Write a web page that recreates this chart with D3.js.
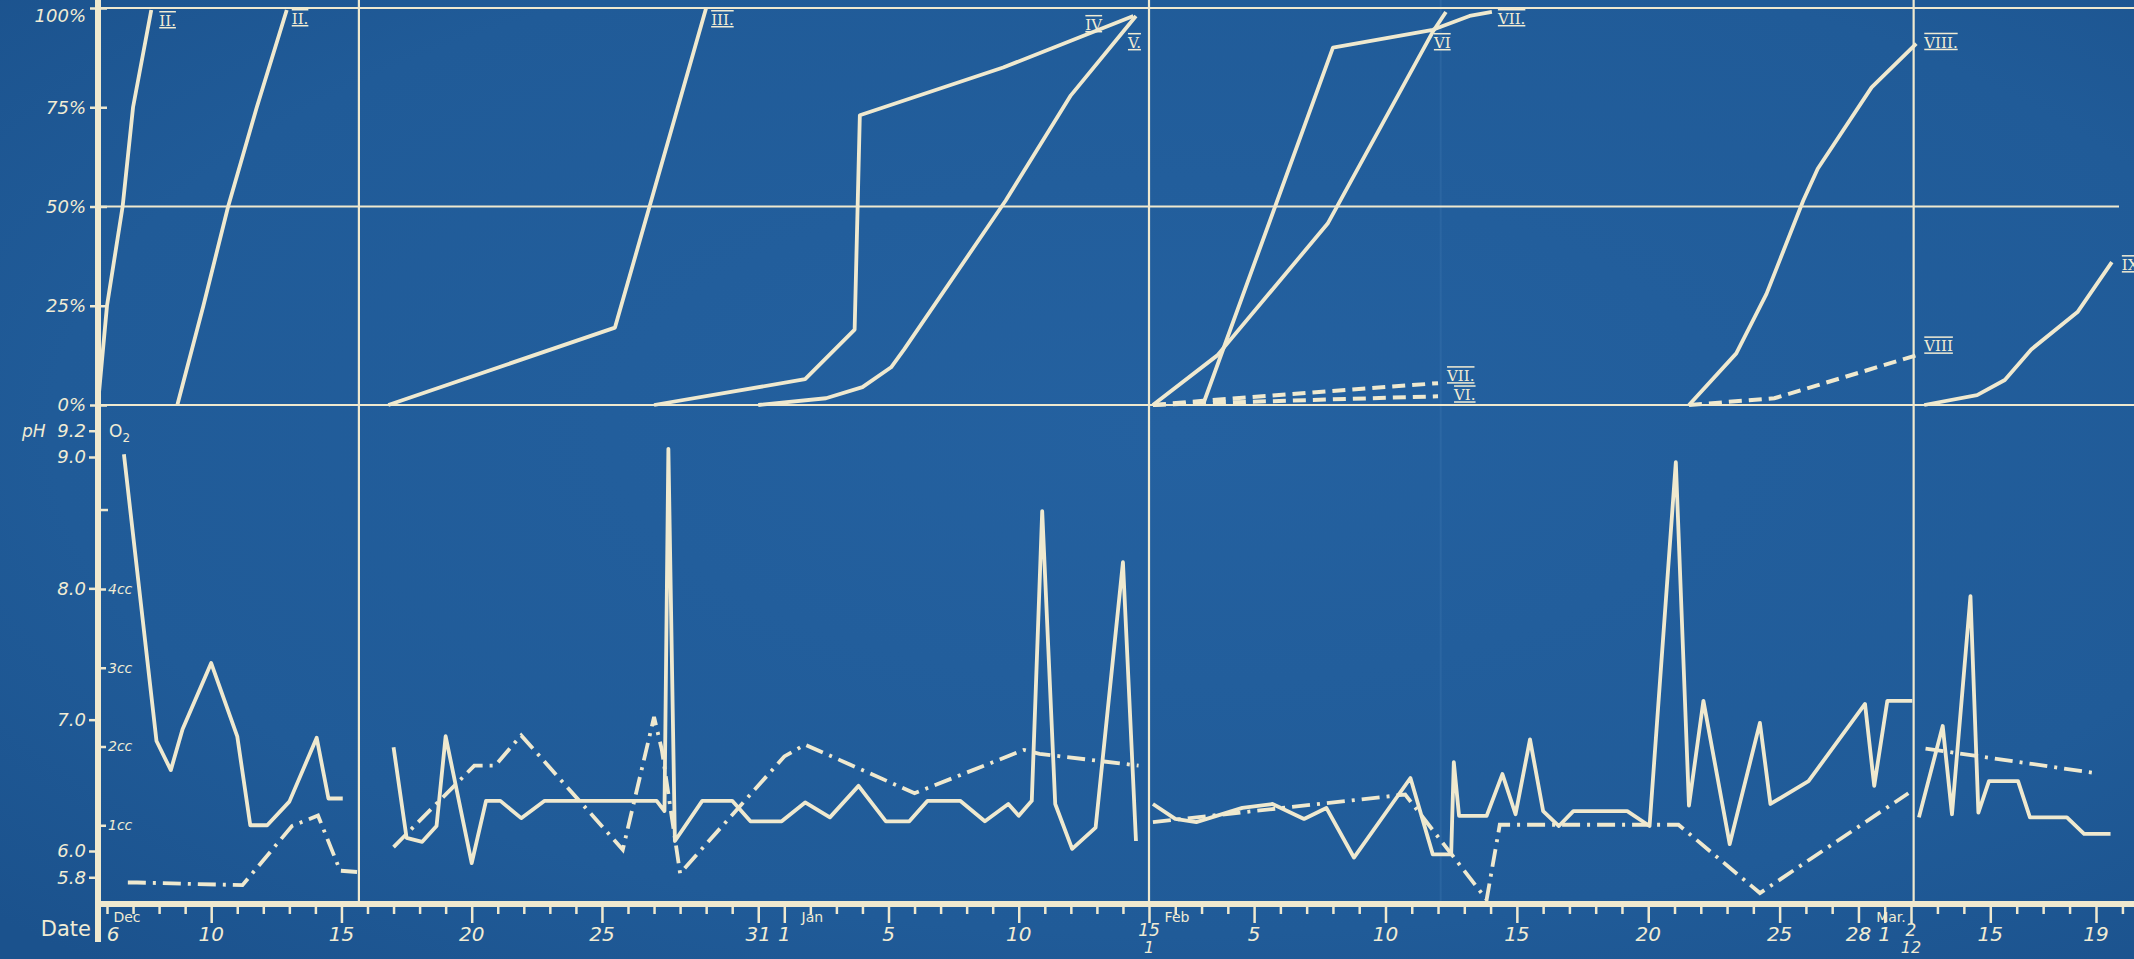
<!DOCTYPE html>
<html>
<head>
<meta charset="utf-8">
<script src="https://cdnjs.cloudflare.com/ajax/libs/d3/7.8.5/d3.min.js"></script>
<style>
  html, body { margin: 0; padding: 0; background: #215b97; overflow: hidden; }
  svg { display: block; }
  text { fill: #f1ecd4; font-family: "DejaVu Sans", sans-serif; }
</style>
</head>
<body>
<script>
const width = 2134;
const height = 959;
const ink = '#efe9cf';

// day index on the broken date axis:
// Dec 6 = 0 ... Jan 15 = 40 = Feb 1 ... Mar 2 = 69 = Mar 12 ... Mar 19 = 76
const dayBreaks = [0, 40, 69, 76];
const dividerDays = [9.67, 40, 69.1];
const creaseDay = 51.1;

const pctTicks = [0, 25, 50, 75, 100];
const pctGuides = [0, 50, 100];
const phTicks = [5.8, 6.0, 7.0, 8.0, 9.0, 9.2];
const phMinorTicks = [8.6];
const o2Ticks = [1, 2, 3, 4];

// date labels: [day index, number, second number (stacked), month]
const dateLabels = [
  [0, '6', null, 'Dec'], [4, '10'], [9, '15'], [14, '20'], [19, '25'],
  [25, '31'], [26, '1', null, 'Jan'], [30, '5'], [35, '10'],
  [40, '15', '1', 'Feb'], [44, '5'], [49, '10'], [54, '15'], [59, '20'],
  [64, '25'], [67, '28'], [68, '1'], [69, '2', '12', 'Mar.'], [72, '15'], [76, '19']
];

// upper panel: cumulative percent curves [day index, %]
const curveI    = [[-0.35, 0], [0, 25], [0.6, 50], [1.0, 75], [1.7, 99.5]];
const curveII   = [[2.7, 0], [3.7, 25], [4.65, 50], [5.75, 75], [6.9, 99.5]];
const curveIII  = [[10.8, 0], [19.5, 19.5], [23.0, 100]];
const curveIV   = [[21.0, 0], [26.8, 6.5], [28.7, 19], [28.9, 73], [34.4, 85], [39.4, 98]];
const curveV    = [[25.0, 0], [27.6, 1.7], [29.0, 4.5], [30.1, 9.5], [30.6, 14], [34.5, 51.5], [37.0, 78], [39.5, 98]];
const curveVI   = [[40.15, 0], [42.6, 12.5], [46.8, 45.7], [50.8, 94], [51.3, 99]];
const curveVII  = [[42.05, 0], [47.0, 90], [50.8, 94.5], [52.2, 98], [53.05, 99]];
const curveVIb  = [[40.15, 0], [42.3, 0.5], [51.0, 2.2]];
const curveVIIb = [[40.15, 0], [42.3, 1.2], [51.0, 5.5]];
const curveVIII = [[60.55, 0], [62.35, 13], [63.5, 28], [64.9, 51.5], [65.45, 59.5], [67.5, 80], [69.2, 91]];
const curveVIIIb = [[60.55, 0], [63.8, 1.7], [69.2, 12.5]];
const curveIX   = [[69.5, 0], [71.5, 2.5], [72.55, 6.3], [73.55, 14], [75.3, 23.4], [76.6, 36]];

// lower panel, solid line: O2 in cc [day index, cc]
const o2Dec = [[0.65, 5.71], [1.9, 2.07], [2.45, 1.70], [2.9, 2.22], [4.0, 3.06], [5.0, 2.13], [5.5, 1.0],
  [6.15, 1.0], [7.0, 1.30], [8.05, 2.11], [8.5, 1.34], [9.05, 1.34]];
const o2Jan = [[11.0, 1.99], [11.5, 0.84], [12.1, 0.79], [12.65, 0.99], [13.0, 2.13], [14.0, 0.52], [14.55, 1.31],
  [15.1, 1.31], [15.9, 1.09], [16.8, 1.31], [21.1, 1.31], [21.4, 1.18], [21.55, 5.78], [21.8, 0.80], [22.85, 1.31],
  [24.0, 1.31], [24.7, 1.05], [25.9, 1.05], [26.8, 1.29], [27.75, 1.10], [28.85, 1.50], [29.9, 1.05], [30.8, 1.05],
  [31.5, 1.31], [32.75, 1.31], [33.7, 1.05], [34.6, 1.27], [35.0, 1.12], [35.5, 1.31], [35.9, 4.99], [36.4, 1.27],
  [37.05, 0.70], [37.95, 0.97], [39.0, 4.34], [39.5, 0.80]];
const o2Feb = [[40.15, 1.27], [41.0, 1.08], [41.8, 1.04], [43.55, 1.22], [44.7, 1.27], [45.9, 1.08], [46.75, 1.22],
  [47.8, 0.59], [49.95, 1.60], [50.8, 0.63], [51.5, 0.63], [51.6, 1.80], [51.8, 1.12], [52.85, 1.12], [53.45, 1.65],
  [53.95, 1.14], [54.5, 2.09], [55.0, 1.18], [55.6, 0.99], [56.15, 1.18], [58.2, 1.18], [59.05, 0.99], [60.05, 5.61],
  [60.55, 1.25], [61.1, 2.58], [62.1, 0.76], [63.25, 2.30], [63.65, 1.27], [65.1, 1.56], [67.25, 2.54], [67.6, 1.50],
  [68.1, 2.58], [69.05, 2.58]];
const o2Mar = [[69.3, 1.10], [70.2, 2.26], [70.55, 1.14], [71.25, 3.91], [71.55, 1.16], [71.95, 1.56], [73.05, 1.56],
  [73.5, 1.10], [74.9, 1.10], [75.55, 0.89], [76.55, 0.89]];

// lower panel, dash-dot line: pH [day index, pH]
const phDec = [[0.8, 5.76], [1.15, 5.76], [5.2, 5.74], [7.1, 6.19], [8.1, 6.27], [8.95, 5.85], [9.6, 5.84]];
const phJan = [[11.0, 6.03], [14.1, 6.65], [14.9, 6.65], [15.9, 6.88], [19.8, 6.01], [21.0, 7.02], [21.3, 6.77],
  [22.0, 5.83], [26.0, 6.72], [26.8, 6.81], [31.0, 6.44], [35.2, 6.77], [35.8, 6.74], [39.6, 6.65]];
const phFeb = [[40.15, 6.22], [49.75, 6.43], [52.85, 5.63], [53.35, 6.20], [60.15, 6.20], [63.25, 5.68], [68.9, 6.44]];
const phMar = [[69.55, 6.78], [76.1, 6.59]];

const solidCurves = [
  {name: 'II.', pts: curveI, dx: 8, dy: 12},
  {name: 'II.', pts: curveII, dx: 5, dy: 10},
  {name: 'III.', pts: curveIII, dx: 5, dy: 13},
  {name: 'IV', pts: curveIV, dx: -48, dy: 10},
  {name: 'V.', pts: curveV, dx: -8, dy: 28},
  {name: 'VI', pts: curveVI, dx: -12, dy: 32},
  {name: 'VII.', pts: curveVII, dx: 6, dy: 8},
  {name: 'VIII.', pts: curveVIII, dx: 8, dy: 0},
  {name: 'IX.', pts: curveIX, dx: 10, dy: 4}
];
const dashedCurves = [
  {name: 'VI.', pts: curveVIb, dx: 16, dy: 0},
  {name: 'VII.', pts: curveVIIb, dx: 9, dy: -6},
  {name: 'VIII', pts: curveVIIIb, dx: 8, dy: -8}
];

const axisX = 98;
const axisY = 904;

const x = d3.scaleLinear().domain(dayBreaks).range([107, 1149, 1911, 2096]);
const yPct = d3.scaleLinear().domain([0, 100]).range([405, 8]);
const yPH = d3.scaleLinear().domain([6, 9]).range([851, 457]);
const yO2 = d3.scaleLinear().domain([0, 4]).range([axisY, 589]);

const svg = d3.select('body').append('svg')
  .attr('width', width)
  .attr('height', height);

const defs = svg.append('defs');
const grad = defs.append('radialGradient').attr('id', 'paper')
  .attr('cx', '55%').attr('cy', '45%').attr('r', '75%');
grad.append('stop').attr('offset', '0%').attr('stop-color', '#2461a0');
grad.append('stop').attr('offset', '70%').attr('stop-color', '#205b98');
grad.append('stop').attr('offset', '100%').attr('stop-color', '#1b528d');

svg.append('rect').attr('width', width).attr('height', height).attr('fill', 'url(#paper)');

// fold crease
svg.append('line')
  .attr('x1', x(creaseDay)).attr('x2', x(creaseDay))
  .attr('y1', 0).attr('y2', axisY)
  .attr('stroke', '#3a74ad').attr('stroke-width', 2).attr('opacity', 0.4);

const grid = svg.append('g').attr('class', 'grid');

grid.selectAll('line.guide')
  .data(pctGuides)
  .join('line')
  .attr('class', 'guide')
  .attr('x1', axisX)
  .attr('x2', d => d === 50 ? width - 15 : width)
  .attr('y1', d => yPct(d))
  .attr('y2', d => yPct(d))
  .attr('stroke', ink)
  .attr('stroke-width', 2.2);

grid.selectAll('line.divider')
  .data(dividerDays)
  .join('line')
  .attr('class', 'divider')
  .attr('x1', d => x(d)).attr('x2', d => x(d))
  .attr('y1', 0).attr('y2', axisY)
  .attr('stroke', ink)
  .attr('stroke-width', 2.2);

// upper panel curves
const pctLine = d3.line().x(d => x(d[0])).y(d => yPct(d[1]));

const gTop = svg.append('g').attr('class', 'top');

gTop.selectAll('path.solid')
  .data(solidCurves)
  .join('path')
  .attr('class', 'solid')
  .attr('d', d => pctLine(d.pts))
  .attr('fill', 'none')
  .attr('stroke', ink)
  .attr('stroke-width', 3.8)
  .attr('stroke-linejoin', 'round');

gTop.selectAll('path.dashed')
  .data(dashedCurves)
  .join('path')
  .attr('class', 'dashed')
  .attr('d', d => pctLine(d.pts))
  .attr('fill', 'none')
  .attr('stroke', ink)
  .attr('stroke-width', 4)
  .attr('stroke-dasharray', '13 7');

gTop.selectAll('text.name')
  .data(solidCurves.concat(dashedCurves))
  .join('text')
  .attr('class', 'name')
  .attr('x', d => x(d.pts[d.pts.length - 1][0]) + d.dx)
  .attr('y', d => yPct(d.pts[d.pts.length - 1][1]) + d.dy)
  .attr('dominant-baseline', 'middle')
  .style('font-family', '"DejaVu Serif", serif')
  .style('font-size', '15px')
  .style('text-decoration', 'underline overline')
  .text(d => d.name);

// lower panel lines
const o2Line = d3.line().x(d => x(d[0])).y(d => yO2(d[1]));
const phLine = d3.line().x(d => x(d[0])).y(d => yPH(d[1]));

const gBottom = svg.append('g').attr('class', 'bottom');

gBottom.selectAll('path.o2')
  .data([o2Dec, o2Jan, o2Feb, o2Mar])
  .join('path')
  .attr('class', 'o2')
  .attr('d', o2Line)
  .attr('fill', 'none')
  .attr('stroke', ink)
  .attr('stroke-width', 3.8)
  .attr('stroke-linejoin', 'round');

gBottom.selectAll('path.ph')
  .data([phDec, phJan, phFeb, phMar])
  .join('path')
  .attr('class', 'ph')
  .attr('d', phLine)
  .attr('fill', 'none')
  .attr('stroke', ink)
  .attr('stroke-width', 3.8)
  .attr('stroke-dasharray', '18 7 3 7');

// axes
const gAxes = svg.append('g').attr('class', 'axes');

gAxes.append('line')
  .attr('x1', axisX).attr('x2', axisX)
  .attr('y1', 0).attr('y2', 942)
  .attr('stroke', ink).attr('stroke-width', 6);

gAxes.append('line')
  .attr('x1', axisX - 3).attr('x2', width)
  .attr('y1', axisY).attr('y2', axisY)
  .attr('stroke', ink).attr('stroke-width', 6);

function styleAxis(g, size) {
  g.select('.domain').remove();
  g.selectAll('.tick line').attr('stroke', ink).attr('stroke-width', 2.5);
  g.selectAll('.tick text')
    .attr('fill', ink)
    .style('font-family', '"DejaVu Sans", sans-serif')
    .style('font-style', 'italic')
    .style('font-size', size + 'px');
}

gAxes.append('g')
  .attr('transform', `translate(${axisX},0)`)
  .call(d3.axisLeft(yPct).tickValues(pctTicks).tickSize(-9).tickPadding(12)
    .tickFormat(d => d + '%'))
  .call(g => styleAxis(g, 18))
  .call(g => g.selectAll('.tick line').attr('x1', -8))
  .call(g => g.selectAll('.tick text').attr('dy', d => d === 100 ? '0.75em' : '0.32em'));

gAxes.append('g')
  .attr('transform', `translate(${axisX},0)`)
  .call(d3.axisLeft(yPH).tickValues(phTicks).tickSize(9).tickPadding(3)
    .tickFormat(d3.format('.1f')))
  .call(g => styleAxis(g, 18));

gAxes.append('g')
  .attr('transform', `translate(${axisX},0)`)
  .call(d3.axisRight(yPH).tickValues(phMinorTicks).tickSize(10).tickFormat(''))
  .call(g => styleAxis(g, 14));

gAxes.append('g')
  .attr('transform', `translate(${axisX},0)`)
  .call(d3.axisRight(yO2).tickValues(o2Ticks).tickSize(8).tickPadding(2)
    .tickFormat(d => d + 'cc'))
  .call(g => styleAxis(g, 14));

const labelDays = dateLabels.map(d => d[0]);

gAxes.append('g')
  .attr('transform', `translate(0,${axisY + 2})`)
  .call(d3.axisBottom(x).tickValues(d3.range(0, 78)).tickSize(8).tickFormat(''))
  .call(g => styleAxis(g, 14))
  .call(g => g.selectAll('.tick line')
    .attr('y2', d => labelDays.includes(d) && d !== 0 ? 17 : 8));

// date labels
const gDates = gAxes.append('g').attr('class', 'dates')
  .style('font-style', 'italic');

gDates.selectAll('text.day')
  .data(dateLabels)
  .join('text')
  .attr('class', 'day')
  .attr('x', d => x(d[0]) + (d[0] === 0 ? 6 : 0))
  .attr('y', d => d[2] ? 936 : 941)
  .attr('text-anchor', 'middle')
  .style('font-size', d => d[2] ? '17px' : '20px')
  .text(d => d[1]);

gDates.selectAll('text.day2')
  .data(dateLabels.filter(d => d[2]))
  .join('text')
  .attr('class', 'day2')
  .attr('x', d => x(d[0]))
  .attr('y', 953)
  .attr('text-anchor', 'middle')
  .style('font-size', '16px')
  .text(d => d[2]);

const monthShift = {Dec: 20, Jan: 28, Feb: 28, 'Mar.': -20};
gDates.selectAll('text.month')
  .data(dateLabels.filter(d => d[3]))
  .join('text')
  .attr('class', 'month')
  .attr('x', d => x(d[0]) + monthShift[d[3]])
  .attr('y', 922)
  .attr('text-anchor', 'middle')
  .style('font-size', '14px')
  .style('font-style', 'normal')
  .text(d => d[3]);

// axis titles
gAxes.append('text')
  .attr('x', 91).attr('y', 936)
  .attr('text-anchor', 'end')
  .style('font-size', '21px')
  .text('Date');

gAxes.append('text')
  .attr('x', 22).attr('y', 437)
  .style('font-size', '17px')
  .style('font-style', 'italic')
  .text('pH');

const o2Title = gAxes.append('text')
  .attr('x', 109).attr('y', 437)
  .style('font-size', '17px');
o2Title.append('tspan').text('O');
o2Title.append('tspan').attr('dy', 5).style('font-size', '12px').text('2');
</script>
</body>
</html>
